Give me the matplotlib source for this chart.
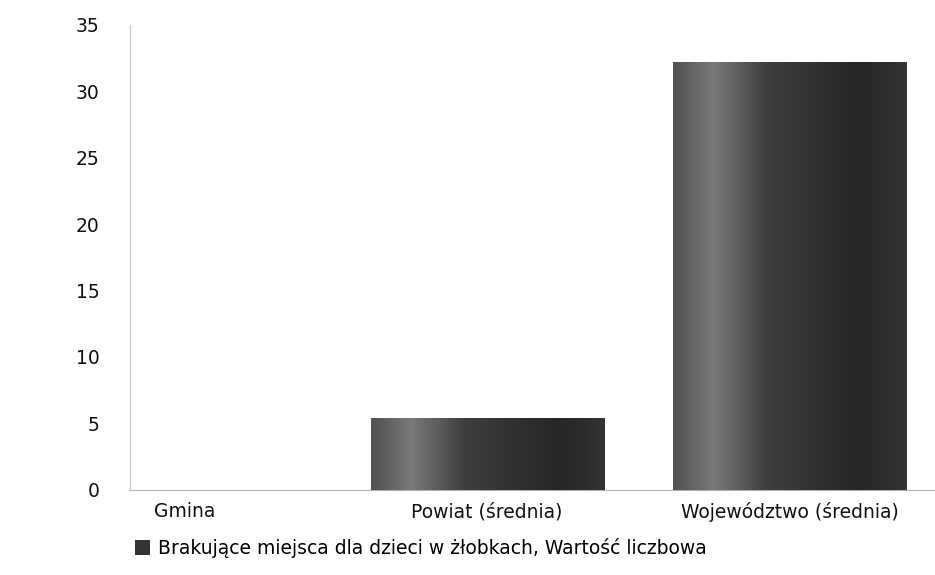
import numpy as np
import matplotlib.pyplot as plt
from matplotlib.colors import LinearSegmentedColormap
from matplotlib.patches import Patch

# values
categories = ['Gmina', 'Powiat (średnia)', 'Województwo (średnia)']
values = [0, 5.4, 32.2]
y_ticks = [0, 5, 10, 15, 20, 25, 30, 35]
legend_label = 'Brakujące miejsca dla dzieci w żłobkach, Wartość liczbowa'

plt.rcParams['font.family'] = ['DejaVu Sans']

fig = plt.figure(figsize=(9.35, 5.75), dpi=100)
ax = fig.add_axes([0.139, 0.148, 0.861, 0.809])

x = np.arange(len(categories))
bars = ax.bar(x, values, width=0.77, color='#333333', zorder=2)

# the bars in the picture have a shaded look, lighter band near the left edge
shade = LinearSegmentedColormap.from_list(
    'shade', [(0.0, '#505050'), (0.17, '#7a7a7a'), (0.4, '#3e3e3e'),
              (0.8, '#262626'), (1.0, '#333333')])
grad = np.linspace(0, 1, 256).reshape(1, -1)
for b in bars:
    if b.get_height() <= 0:
        continue
    x0, y0 = b.get_x(), b.get_y()
    im = ax.imshow(grad, cmap=shade, aspect='auto', zorder=3,
                   extent=(x0, x0 + b.get_width(), y0, y0 + b.get_height()))
    im.set_clip_path(b)

ax.set_xlim(-0.18, 2.48)
ax.set_ylim(0, 35)
ax.set_yticks(y_ticks)
ax.set_xticks(x)
ax.set_xticklabels(categories)
ax.tick_params(axis='both', length=0, labelsize=13.5, colors='#111111')
ax.tick_params(axis='y', pad=22)
ax.tick_params(axis='x', pad=9)

for side in ['top', 'right']:
    ax.spines[side].set_visible(False)
ax.spines['left'].set_color('#c8c8c8')
ax.spines['bottom'].set_color('#b0b0b0')

handle = Patch(facecolor='#333333', edgecolor='none')
fig.legend([handle], [legend_label], loc='center', bbox_to_anchor=(0.45, 0.047),
           frameon=False, fontsize=13.5, handlelength=0.8, handleheight=0.8,
           handletextpad=0.4)

fig.savefig('out.png', dpi=100, facecolor='white')
